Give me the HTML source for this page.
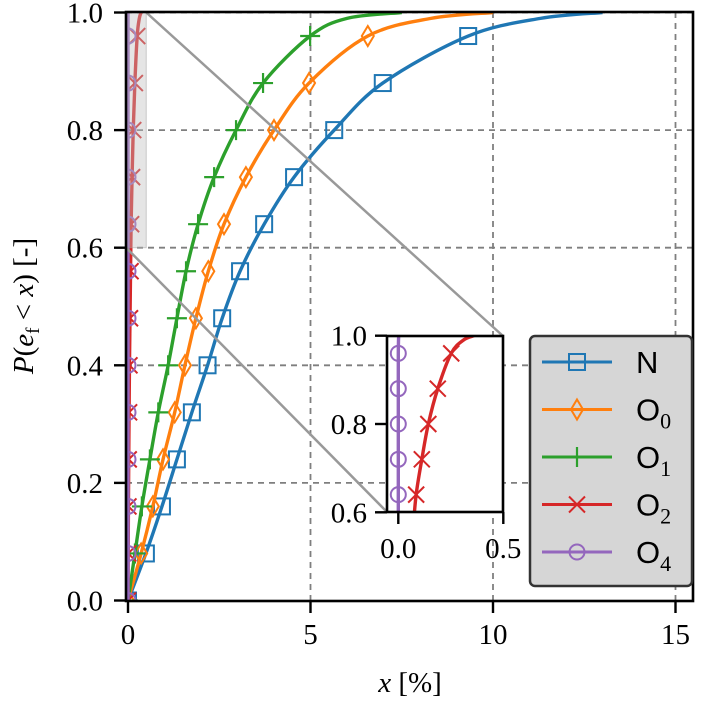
<!DOCTYPE html>
<html><head><meta charset="utf-8"><style>
html,body{margin:0;padding:0;background:#fff;width:711px;height:707px;overflow:hidden;}
svg{display:block;}
text{font-family:"Liberation Serif",serif;}
</style></head><body>
<svg id="chart" width="711" height="707" viewBox="0 0 711 707">
<defs>
<clipPath id="mainClip"><rect x="126" y="12" width="567" height="589"/></clipPath>
<clipPath id="insetClip"><rect x="387" y="336" width="116" height="176"/></clipPath>
</defs>
<g id="grid"></g>
<g id="main" clip-path="url(#mainClip)"></g>
<g id="axes"></g>
<g id="inset"></g>
<g id="legend"></g>
</svg>
<script>
const probs = [0,0.08,0.16,0.24,0.32,0.40,0.48,0.56,0.64,0.72,0.80,0.88,0.96,0.99,1.0];
const xN  = [0,0.49,0.93,1.34,1.75,2.18,2.58,3.07,3.73,4.55,5.65,6.98,9.32,11.3,13.0];
const xO0 = [0,0.36,0.68,0.96,1.28,1.56,1.86,2.20,2.63,3.23,4.00,4.96,6.57,8.3,10.0];
const xO1 = [0,0.19,0.38,0.60,0.83,1.10,1.34,1.59,1.92,2.36,2.96,3.70,4.99,6.0,7.5];
const xO2 = [0,0.005,0.012,0.02,0.03,0.04,0.055,0.07,0.085,0.112,0.143,0.188,0.252,0.31,0.36];
const xO4 = [0,0,0,0,0,0,0,0,0,0,0,0,0,0.001,0.002];
const xTicks = [0,5,10,15];
const yTicks = [0.0,0.2,0.4,0.6,0.8,1.0];
const xTickLabels = ["0","5","10","15"];
const yTickLabels = ["0.0","0.2","0.4","0.6","0.8","1.0"];
const insetXTicks = [0.0,0.5];
const insetXTickLabels = ["0.0","0.5"];
const insetYTicks = [0.6,0.8,1.0];
const insetYTickLabels = ["0.6","0.8","1.0"];
const seriesNames = ["N","O0","O1","O2","O4"];

const NS="http://www.w3.org/2000/svg";
const X = v => 128 + v*36.5;
const Y = p => 600.5 - p*588;
const IX = v => 398.3 + v*210;
const IY = p => 512.3 - (p-0.6)*441.5;
function mk(tag, attrs, parent){const e=document.createElementNS(NS,tag);for(const k in attrs)e.setAttribute(k,attrs[k]);parent.appendChild(e);return e;}
function smooth(pts){
  let d="M"+pts[0][0]+","+pts[0][1];
  for(let i=0;i<pts.length-1;i++){
    const p0=pts[Math.max(0,i-1)],p1=pts[i],p2=pts[i+1],p3=pts[Math.min(pts.length-1,i+2)];
    const c1=[p1[0]+(p2[0]-p0[0])/6,p1[1]+(p2[1]-p0[1])/6];
    const c2=[p2[0]-(p3[0]-p1[0])/6,p2[1]-(p3[1]-p1[1])/6];
    d+=` C${c1[0]},${c1[1]} ${c2[0]},${c2[1]} ${p2[0]},${p2[1]}`;
  }
  return d;
}
function marker(type,cx,cy,color,parent,s){
  s=s||1;let e;
  if(type==="square") e=mk("rect",{x:cx-8*s,y:cy-8*s,width:16*s,height:16*s,fill:"none",stroke:color,"stroke-width":2},parent);
  else if(type==="diamond") e=mk("path",{d:`M${cx},${cy-10*s} L${cx+6*s},${cy} L${cx},${cy+10*s} L${cx-6*s},${cy} Z`,fill:"none",stroke:color,"stroke-width":2},parent);
  else if(type==="plus") e=mk("path",{d:`M${cx-10*s},${cy} H${cx+10*s} M${cx},${cy-10*s} V${cy+10*s}`,fill:"none",stroke:color,"stroke-width":2.2},parent);
  else if(type==="x") e=mk("path",{d:`M${cx-8*s},${cy-8*s} L${cx+8*s},${cy+8*s} M${cx-8*s},${cy+8*s} L${cx+8*s},${cy-8*s}`,fill:"none",stroke:color,"stroke-width":2},parent);
  else e=mk("circle",{cx:cx,cy:cy,r:7.5*s,fill:"none",stroke:color,"stroke-width":2},parent);
  
  
  return e;
}
const series=[
 {name:"N",xs:xN,color:"#1f77b4",m:"square"},
 {name:"O0",xs:xO0,color:"#ff7f0e",m:"diamond"},
 {name:"O1",xs:xO1,color:"#2ca02c",m:"plus"},
 {name:"O2",xs:xO2,color:"#d62728",m:"x"},
 {name:"O4",xs:xO4,color:"#9467bd",m:"circle"}];

const grid=document.getElementById("grid");
xTicks.forEach(v=>{if(v===0)return;const l=mk("line",{x1:X(v),x2:X(v),y1:12,y2:601,stroke:"#7f7f7f","stroke-width":1.8,"stroke-dasharray":"6,5"},grid);
});
yTicks.forEach(v=>{if(v===0)return;const l=mk("line",{x1:126,x2:693,y1:Y(v),y2:Y(v),stroke:"#7f7f7f","stroke-width":1.8,"stroke-dasharray":"6,5"},grid);
});

const main=document.getElementById("main");
function drawSeries(parent,sx,sy,scale){
  series.forEach(s=>{
    const g=mk("g",{},parent);
    
    
    const pts=probs.map((p,i)=>[sx(s.xs[i]),sy(p)]);
    const path=mk("path",{d:smooth(pts),fill:"none",stroke:s.color,"stroke-width":3.4},g);
    
    
    probs.forEach((p,i)=>{if(p<0.97)marker(s.m,sx(s.xs[i]),sy(p),s.color,g,scale);});
  });
}
drawSeries(main,X,Y,1);
const zr=mk("rect",{x:X(-0.05),y:Y(1.0),width:X(0.5)-X(-0.05),height:Y(0.6)-Y(1.0),fill:"rgba(190,190,190,0.4)",stroke:"rgba(160,160,160,0.5)","stroke-width":1},main);

const c1=mk("line",{x1:X(0.5),y1:Y(1.0),x2:503,y2:336,stroke:"#999","stroke-width":2.5},main);

const c2=mk("line",{x1:X(-0.05),y1:Y(0.6),x2:387,y2:512,stroke:"#999","stroke-width":2.5},main);


const axes=document.getElementById("axes");
const fr=mk("rect",{x:126,y:12,width:567,height:589,fill:"none",stroke:"#000","stroke-width":2.6},axes);

xTicks.forEach((v,i)=>{mk("line",{x1:X(v),x2:X(v),y1:601,y2:613,stroke:"#000","stroke-width":2.4},axes);
 const t=mk("text",{x:X(v),y:644,"font-size":29,"text-anchor":"middle"},axes);t.textContent=xTickLabels[i];
 });
yTicks.forEach((v,i)=>{mk("line",{x1:114,x2:126,y1:Y(v),y2:Y(v),stroke:"#000","stroke-width":2.4},axes);
 const t=mk("text",{x:103,y:Y(v)+10,"font-size":29,"text-anchor":"end"},axes);t.textContent=yTickLabels[i];
 });
const xl=mk("text",{x:410,y:692,"font-size":29,"text-anchor":"middle"},axes);
xl.innerHTML='<tspan font-style="italic">x</tspan> [%]';

const yl=mk("text",{x:0,y:0,"font-size":29,"text-anchor":"middle",transform:"translate(33,306) rotate(-90)"},axes);
yl.innerHTML='<tspan font-style="italic">P</tspan>(<tspan font-style="italic">e</tspan><tspan font-size="19" dy="6">f</tspan><tspan dy="-6"> &lt; </tspan><tspan font-style="italic">x</tspan>) [-]';


const inset=document.getElementById("inset");
const ibg=mk("rect",{x:387,y:336,width:116,height:176,fill:"#fff"},inset);

const ig=mk("g",{"clip-path":"url(#insetClip)"},inset);
drawSeries(ig,IX,IY,1);
const ifr=mk("rect",{x:387,y:336,width:116,height:176,fill:"none",stroke:"#000","stroke-width":2.6},inset);

insetXTicks.forEach((v,i)=>{mk("line",{x1:IX(v),x2:IX(v),y1:512,y2:524,stroke:"#000","stroke-width":2.4},inset);
 const t=mk("text",{x:IX(v),y:558,"font-size":29,"text-anchor":"middle"},inset);t.textContent=insetXTickLabels[i];
 });
insetYTicks.forEach((v,i)=>{mk("line",{x1:375,x2:387,y1:IY(v),y2:IY(v),stroke:"#000","stroke-width":2.4},inset);
 const t=mk("text",{x:367,y:IY(v)+10,"font-size":29,"text-anchor":"end"},inset);t.textContent=insetYTickLabels[i];
 });

const leg=document.getElementById("legend");
const lb=mk("rect",{x:530,y:336,width:162,height:250,rx:5,fill:"#d6d6d6",stroke:"#333","stroke-width":2.5},leg);

const labels=[["N",""],["O","0"],["O","1"],["O","2"],["O","4"]];
series.forEach((s,i)=>{
  const cy=362+i*47.5;
  const g=mk("g",{},leg);
  
  
  mk("line",{x1:542,x2:612,y1:cy,y2:cy,stroke:s.color,"stroke-width":3},g);
  marker(s.m,577,cy,s.color,g,1);
  const t=mk("text",{x:636,y:cy+11,"font-size":31,style:'font-family:"Liberation Sans",sans-serif'},g);
  t.innerHTML=labels[i][0]+(labels[i][1]?'<tspan font-size="22" dy="8" style="font-family:Liberation Serif,serif">'+labels[i][1]+'</tspan>':'');
  
  
});
</script>
</body></html>
